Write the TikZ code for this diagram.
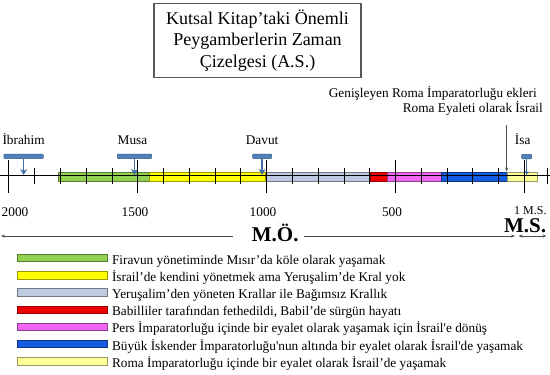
\documentclass[tikz,border=0pt]{standalone}
\usepackage{fontspec}
\setmainfont{Liberation Serif}[Ligatures=TeXOff]
\usepackage{tikz}
\usetikzlibrary{arrows.meta,positioning}
\usepackage{xcolor}

\definecolor{pinblue}{RGB}{79,129,189}
\definecolor{eragreen}{RGB}{146,208,80}
\definecolor{erayellow}{RGB}{255,255,0}
\definecolor{eragrey}{RGB}{189,202,224}
\definecolor{erared}{RGB}{240,0,0}
\definecolor{erapink}{RGB}{240,102,240}
\definecolor{erablue}{RGB}{22,92,222}
\definecolor{eracream}{RGB}{255,255,153}

\begin{document}
\begin{tikzpicture}[
  x=1pt, y=-1pt,
  >=Stealth,
  titlebox/.style={
    draw=black!65,
    line width=1.6pt,
    minimum width=207pt,
    minimum height=74pt,
    align=center,
    font=\fontsize{18}{21.7}\selectfont,
    inner sep=0pt,
  },
  era/.style={
    fill=#1,
    draw=#1!60!black,
    line width=0.5pt,
  },
  swatch/.style={
    era=#1,
    minimum width=90.7pt,
    minimum height=7.4pt,
    inner sep=0pt,
  },
  pinbar/.style={
    rounded corners=1pt,
    fill=pinblue,
    draw=pinblue!70!black,
    line width=0.5pt,
    minimum height=4.5pt,
    inner sep=0pt,
  },
  pinstem/.style={
    -{Stealth[length=6pt,width=7pt]},
    line width=1.4pt,
    pinblue!85!black,
  },
  lbl/.style={
    font=\fontsize{13.3}{16}\selectfont,
    inner sep=0pt,
  },
  bigera/.style={
    font=\fontsize{21}{24}\selectfont\bfseries,
    inner sep=0pt,
  },
  thinarr/.style={
    -{Stealth[length=4pt,width=3pt]},
    line width=0.6pt,
    black!70,
  },
  tickmark/.style={
    line width=0.6pt,
    black,
  },
]

\useasboundingbox (0,0) rectangle (550,375);

% Title
\node[titlebox] (title) at (257.5,40.5) {Kutsal Kitap’taki Önemli\\Peygamberlerin Zaman\\Çizelgesi (A.S.)};

% Eras on the time line
\foreach \xa/\xb/\col in {58.7/149.3/eragreen, 149.3/265.3/erayellow,
    266/370/eragrey, 370/387.3/erared, 387.3/441.7/erapink,
    441.7/507.3/erablue, 507.3/537.5/eracream}
  \draw[era=\col] (\xa,172) rectangle (\xb,181);

% Axis and ticks
\coordinate (axisl) at (0,175);
\coordinate (axisr) at (550,175);
\draw[tickmark] (axisl) -- (axisr);

\foreach \i in {0,...,20} {
  \pgfmathsetmacro{\tx}{8.7+25.78*\i}
  \draw[tickmark] (\tx,168) -- (\tx,184);
}
\foreach \i in {0,5,...,20} {
  \pgfmathsetmacro{\tx}{8.7+25.78*\i}
  \draw[tickmark] (\tx,160) -- (\tx,193);
}
\draw[tickmark] (547,168) -- (547,184);

% Years
\foreach \yr/\xp in {2000/15, 1500/135, 1000/263, 500/392}
  \node[lbl, anchor=base] (yr\yr) at (\xp,216) {\yr};
\node[lbl, font=\fontsize{12}{14}\selectfont, anchor=base west] (ms1) at (514,214.5) {1 M.S.};

% Prophets
\node[pinbar, minimum width=39.3pt] (ibrahimbar) at (23.6,156.3) {};
\node[pinbar, minimum width=34.4pt] (musabar) at (134.5,156.3) {};
\node[pinbar, minimum width=19.2pt] (davutbar) at (262.1,156.3) {};
\node[pinbar, minimum width=10pt] (isabar) at (526.7,156.5) {};

\node[lbl, above=9pt of ibrahimbar] (ibrahim) {İbrahim};
\node[lbl, above=9pt of musabar, xshift=-2pt] (musa) {Musa};
\node[lbl, above=9pt of davutbar] (davut) {Davut};
\node[lbl, above=9pt of isabar, xshift=-4pt] (isa) {İsa};

\draw[pinstem] (ibrahimbar.south) -- (ibrahimbar.south |- axisl);
\draw[pinstem] (musabar.south) -- (musabar.south |- axisl);
\draw[pinstem] (davutbar.south) -- (davutbar.south |- axisl);
\draw[pinstem, line width=1pt, -{Stealth[length=4pt,width=4pt]}] (isabar.south) -- (isabar.south |- axisl);

% Roman note
\node[lbl, anchor=base east] (romaa) at (537,97.5) {Genişleyen Roma İmparatorluğu ekleri};
\node[lbl, anchor=base east] (romab) at (543,112) {Roma Eyaleti olarak İsrail};
\coordinate (romatip) at (506.7,171.5);
\draw[thinarr] (romab.south -| romatip) ++(0,10) -- (romatip);

% B.C. / A.D.
\node[bigera, anchor=base west] (mo) at (251.7,241.5) {M.Ö.};
\node[bigera, anchor=base west] (ms) at (503.8,232.2) {M.S.};
\coordinate (moleft) at (1,236);
\coordinate (moright) at (515,236);
\coordinate (msleft) at (518.5,236);
\coordinate (msright) at (546.5,236);
\draw[thinarr] (mo.west |- moleft) ++(-18.5,0) -- (moleft);
\draw[thinarr] (mo.east |- moright) ++(5,0) -- (moright);
\draw[thinarr, {Stealth[length=4pt,width=3pt]}-{Stealth[length=4pt,width=3pt]}] (msleft) -- (msright);

% Legend
\foreach \col/\txt [count=\i from 0] in {
    eragreen/{Firavun yönetiminde Mısır’da köle olarak yaşamak},
    erayellow/{İsrail’de kendini yönetmek ama Yeruşalim’de Kral yok},
    eragrey/{Yeruşalim’den yöneten Krallar ile Bağımsız Krallık},
    erared/{Babilliler tarafından fethedildi, Babil’de sürgün hayatı},
    erapink/{Pers İmparatorluğu içinde bir eyalet olarak yaşamak için İsrail'e dönüş},
    erablue/{Büyük İskender İmparatorluğu'nun altında bir eyalet olarak İsrail'de yaşamak},
    eracream/{Roma İmparatorluğu içinde bir eyalet olarak İsrail’de yaşamak}} {
  \node[swatch=\col] (sw\i) at (62.2,258+17.2*\i) {};
  \node[lbl, right=4pt of sw\i, anchor=base west, yshift=-6pt] (leg\i) {\txt};
}

\end{tikzpicture}
\end{document}
